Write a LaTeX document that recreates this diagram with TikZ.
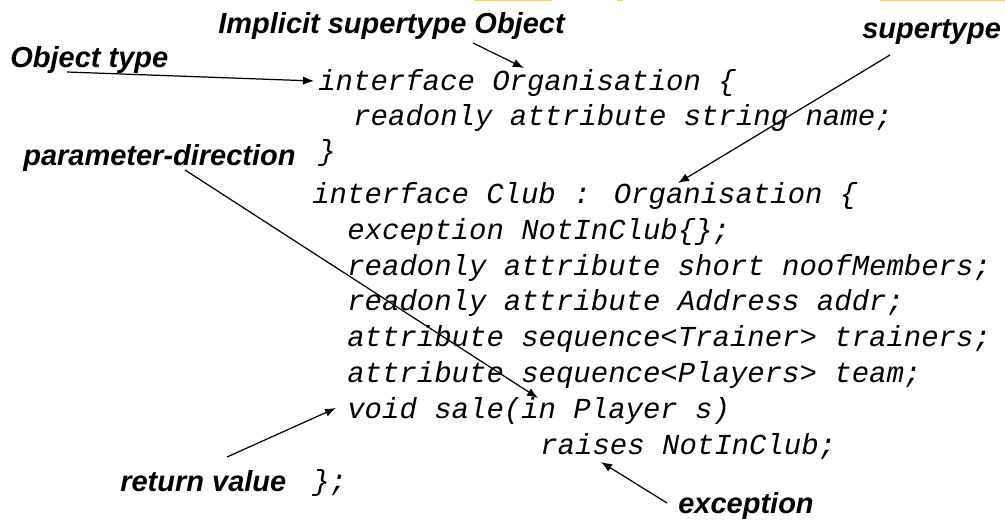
\documentclass[tikz,border=0pt]{standalone}
\usepackage{fontspec}
\setmainfont{Liberation Sans}
\newfontfamily\codefont{Liberation Mono}
\usetikzlibrary{arrows.meta}
\definecolor{slideyellow}{RGB}{250,210,80}
\tikzset{
  note/.style={inner sep=0pt, anchor=base west, font=\fontsize{16.5}{20}\selectfont\bfseries\itshape},
  code/.style={inner sep=0pt, anchor=base west, font=\fontsize{16.5}{20}\selectfont\codefont\itshape},
  pointer/.style={-{Latex[length=2.2mm,width=1.7mm]}, line width=0.7pt}
}
\begin{document}
\begin{tikzpicture}[x=0.02cm,y=-0.02cm]
      \useasboundingbox (0,0) rectangle (1005,520);
      % remains of the slide bar
      \fill[slideyellow] (474,0) rectangle (552,1.5);
      \fill[slideyellow] (617,0) rectangle (623,1);
      \fill[slideyellow] (880,0) rectangle (1005,1.5);
      % code
      \node[code] (l1) at (318,91) {interface Organisation \{};
      \node[code] (l2) at (353,126) {readonly attribute string name;};
      \node[code] (l3) at (318,161) {\}};
      \node[code] (l4) at (312,203.6) {interface Club : Organisation \{};
      \node[code] (l5) at (347,239.4) {exception NotInClub\{\};};
      \node[code] (l6) at (347,275.2) {readonly attribute short noofMembers;};
      \node[code] (l7) at (347,311) {readonly attribute Address addr;};
      \node[code] (l8) at (347,346.8) {attribute sequence<Trainer> trainers;};
      \node[code] (l9) at (347,382.6) {attribute sequence<Players> team;};
      \node[code] (l10) at (347,418.4) {void sale(in Player s)};
      \node[code] (l11) at (540,454.2) {raises NotInClub;};
      \node[code] (l12) at (312,490) {\};};
      % notes
      \node[note] (objtype) at (10,68) {Object type};
      \node[note] (implicit) at (218,34) {Implicit supertype Object};
      \node[note] (super) at (862,39) {supertype};
      \node[note] (pardir) at (23,166) {parameter-direction};
      \node[note] (retval) at (120,491) {return value};
      \node[note] (exc) at (678,513) {exception};
      % arrow ends
      \coordinate (objtype-a) at (67,72);
      \coordinate (objtype-b) at (314,81);
      \coordinate (implicit-a) at (473,43);
      \coordinate (implicit-b) at (524,68);
      \coordinate (super-a) at (890,55);
      \coordinate (super-b) at (678,183);
      \coordinate (pardir-a) at (185,170);
      \coordinate (pardir-b) at (538,398);
      \coordinate (retval-a) at (227,457);
      \coordinate (retval-b) at (336,408);
      \coordinate (exc-a) at (667,503);
      \coordinate (exc-b) at (601,462);
      \begin{scope}[pointer]
        \draw (objtype-a) -- (objtype-b);
        \draw (implicit-a) -- (implicit-b);
        \draw (super-a) -- (super-b);
        \draw (pardir-a) -- (pardir-b);
        \draw (retval-a) -- (retval-b);
        \draw (exc-a) -- (exc-b);
      \end{scope}
    \end{tikzpicture}
\end{document}
